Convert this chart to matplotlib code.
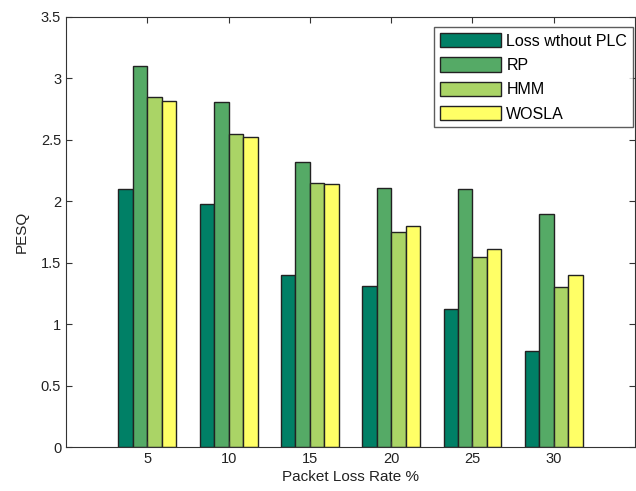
import numpy as np
import matplotlib
matplotlib.use("Agg")
import matplotlib.pyplot as plt

plt.rcParams['font.family'] = ['Liberation Sans', 'DejaVu Sans']

# packet loss rates (%) and PESQ scores per method
loss_rate = [5, 10, 15, 20, 25, 30]
no_plc = [2.10, 1.98, 1.40, 1.31, 1.12, 0.78]
rp = [3.10, 2.81, 2.32, 2.11, 2.10, 1.90]
hmm = [2.85, 2.55, 2.15, 1.75, 1.55, 1.30]
wosla = [2.82, 2.52, 2.14, 1.80, 1.61, 1.40]
labels = ['Loss wthout PLC', 'RP', 'HMM', 'WOSLA']

# summer colormap, 4 steps
colors = ['#008066', '#55aa66', '#aad466', '#ffff66']

fig = plt.figure(figsize=(6.36, 4.91), dpi=100)
ax = fig.add_axes([0.1038, 0.0896, 0.8947, 0.8758])

x = np.arange(1, len(loss_rate) + 1)
w = 0.178
series = [no_plc, rp, hmm, wosla]
for i, vals in enumerate(series):
    ax.bar(x + (i - 1.5) * w, vals, w, color=colors[i], edgecolor='#222222',
           linewidth=1.0, label=labels[i])

ax.set_xlim(0, 7)
ax.set_ylim(0, 3.5)
ax.set_xticks(x)
ax.set_xticklabels([str(v) for v in loss_rate])
ax.set_yticks(np.arange(0, 3.51, 0.5))
ax.set_yticklabels(['0', '0.5', '1', '1.5', '2', '2.5', '3', '3.5'])
ax.tick_params(direction='in', top=True, right=True, labelsize=10.5, length=4,
               colors='#333333', labelcolor='#222222')
for s in ax.spines.values():
    s.set_color('#333333')
ax.set_xlabel('Packet Loss Rate %', fontsize=11, color='#222222', labelpad=3)
ax.set_ylabel('PESQ', fontsize=11, color='#222222', labelpad=9)

leg = ax.legend(loc='upper right', bbox_to_anchor=(0.996, 0.976), borderaxespad=0,
                fontsize=11.5, fancybox=False, edgecolor='#333333',
                handlelength=3.8, handleheight=1.0,
                labelspacing=0.55, handletextpad=0.35, borderpad=0.35)
leg.get_frame().set_linewidth(1.0)

plt.savefig('out.png', dpi=100)
